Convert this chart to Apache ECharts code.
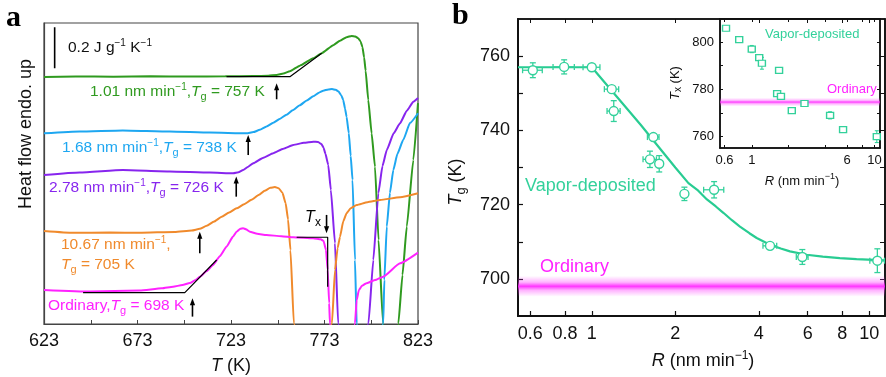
<!DOCTYPE html>
<html>
<head>
<meta charset="utf-8">
<script src="https://cdn.jsdelivr.net/npm/echarts@6/dist/echarts.min.js"></script>
<style>
  html, body { margin: 0; padding: 0; background: #fff; }
  #chart { width: 886px; height: 377px; }
</style>
</head>
<body>
<div id="chart"></div>
<script>
// ---------- Panel a: DSC heating traces, [T (K), heat flow (J g^-1 K^-1, offset)] ----------
const dsc101 = [[623,1.205],[640,1.207],[660,1.206],[680,1.208],[700,1.207],[720,1.208],[735,1.209],[743,1.211],[747.4,1.215],[751,1.222],[754.5,1.233],[759.8,1.260],[767,1.296],[771.5,1.321],[777.7,1.360],[781.3,1.382],[784.8,1.399],[787.5,1.405],[789.5,1.402],[791,1.394],[792.3,1.378],[793.3,1.350],[794.2,1.300],[795,1.235],[796.4,1.093],[798.2,0.930],[800,0.767],[801.9,0.410],[804.3,0.003],[808.5,-0.6],[812.5,0.003],[814.7,0.239],[817,0.475],[820.5,0.800],[823,1.077]];
const dsc168 = [[623,0.930],[642.1,0.939],[665.1,0.944],[690.3,0.939],[711.7,0.934],[731.3,0.930],[735,0.936],[738.4,0.947],[742,0.963],[745.6,0.981],[749,1.000],[752.7,1.021],[756,1.043],[759.8,1.067],[763.5,1.090],[767,1.111],[770,1.128],[772.3,1.138],[775,1.144],[777,1.146],[779,1.142],[780.5,1.134],[782,1.115],[783,1.093],[784,1.050],[784.8,1.011],[786,0.930],[787,0.820],[788,0.702],[789.3,0.312],[790.2,0.003],[797,-0.6],[804.4,0.003],[805,0.215],[806.3,0.475],[808,0.640],[809.8,0.751],[812,0.830],[815.1,0.898],[818.7,0.980],[823,1.028]];
const dsc278 = [[623,0.727],[642.1,0.739],[665.1,0.751],[690.3,0.744],[711.7,0.739],[724.2,0.735],[727,0.740],[729.5,0.751],[732,0.766],[734.9,0.784],[740,0.810],[745.6,0.833],[751,0.855],[756.3,0.873],[762,0.884],[767,0.889],[769.5,0.888],[771.3,0.878],[772.5,0.860],[773.5,0.830],[775,0.776],[776.4,0.654],[778.6,0.394],[780.3,0.003],[788,-0.6],[796.5,0.003],[799.1,0.312],[801.8,0.638],[804,0.770],[806.3,0.849],[810,0.930],[813.4,0.979],[817,1.040],[820.5,1.084],[823,1.102]];
const dsc1067 = [[623,0.454],[638.5,0.445],[658.2,0.446],[674.2,0.445],[692.9,0.449],[702,0.456],[706.3,0.464],[710,0.479],[714,0.500],[718,0.523],[722,0.544],[726,0.564],[730,0.584],[734,0.606],[738,0.630],[741,0.650],[744,0.664],[746.5,0.668],[748.5,0.662],[750.5,0.640],[752.2,0.590],[753.5,0.510],[754.8,0.360],[756.6,0.003],[766,-0.6],[777,0.003],[778.6,0.263],[780,0.370],[781.3,0.426],[783,0.500],[784.8,0.540],[787,0.565],[790.2,0.580],[796,0.594],[802.7,0.605],[813.4,0.618],[823,0.638]];
const dscOrdinary = [[623,0.166],[647.5,0.158],[674.2,0.163],[686,0.174],[692,0.182],[697,0.190],[701,0.200],[704,0.214],[706.3,0.230],[710,0.258],[713.4,0.288],[717,0.330],[720.6,0.377],[724,0.425],[726,0.450],[728,0.464],[729.5,0.467],[731,0.462],[733.1,0.450],[737,0.440],[742,0.434],[750,0.428],[756.3,0.423],[767,0.418],[771,0.413],[772.5,0.405],[773.8,0.361],[774.7,0.263],[775.5,0.101],[775.9,0.003],[782,-0.6],[789.3,0.003],[790.2,0.117],[791.4,0.166],[793,0.186],[795.2,0.198],[800,0.214],[804.4,0.231],[813.4,0.296],[823,0.348]];

// onset constructions and the crystallization-onset marker
const tangent101 = [[720.6,1.206],[754.5,1.206],[771.5,1.320]];
const tangentOrdinary = [[643.9,0.153],[698.3,0.153],[715.3,0.312]];
const txConstruction = [[758.1,0.423],[774.7,0.423],[774.7,0.182]];
// arrows: [T, tail, head]
const tgArrows = [[747.4,1.096,1.174],[732.2,0.824,0.922],[725.8,0.621,0.719],[706.3,0.345,0.450],[702.4,0.036,0.125]];
const txArrow = [774.1,0.532,0.442];
// 0.2 J g^-1 K^-1 scale bar
const scaleBar = [[628.7,1.247],[628.7,1.447]];

const aTempLabels = [623,673,723,773,823];
const aTempTicks = [623,648,673,698,723,748,773,798,823];

// ---------- Panel b: Tg vs deposition rate ----------
const tgRate = [0.613,0.795,1.0,1.18,1.20,1.667,1.62,1.75,2.157,2.76,4.39,5.74,10.7];
const tgValue = [756.2,757.1,757.0,751.1,745.2,738.2,732.2,731.0,722.9,724.0,708.9,705.9,704.9];
const tgRateErr = [0.05,0.07,0.07,0.07,0.065,0.08,0.09,0.05,0.03,0.23,0.25,0.28,0.65];
const tgValueErr = [2.0,1.9,0.5,0.6,2.8,0.8,2.2,2.2,1.8,2.2,0.8,2.0,3.2];
const fitRate = [0.542,1.0,1.5,2.0,2.23,2.4,2.6,2.8,2.98,3.2,3.42,3.7,3.93,4.39,4.8,5.18,5.95,6.8,7.84,9.0,11.4];
const fitTg = [757,757,741.5,730,725.8,724,721.4,719.5,717.8,715.8,714.1,712.3,711,709.2,708.2,707.4,706.5,706.0,705.6,705.3,705.0];
const tgOrdinary = 698;
const tgOrdinarySpread = 2.8;

const rateLabels = [0.6,0.8,1,2,4,6,8,10];
const tgLabels = [700,720,740,760];
const tgTicks = [700,710,720,730,740,750,760];

// inset: Tx vs deposition rate
const txRate = [0.617,0.79,1.0,1.15,1.21,1.67,1.61,1.73,2.12,2.69,4.35,5.55,10.45];
const txValue = [805.8,801,797,793.4,791,788,778.2,777,771,774,769,763,760];
const txValueErr = [1,1,1.5,1.2,2.5,1,1,1,0.8,0.8,1.5,1,2.5];
const txOrdinary = 774.6;
const txOrdinarySpread = 1.8;
const insetRateLabels = [0.6,1,6,10];
const insetRateTicks = [0.6,1,2,4,6,8,10];
const txLabels = [760,780,800];
const txTicks = [760,770,780,790,800];

// ---------- styling ----------
const FONT = "'Liberation Sans', Arial, Helvetica, sans-serif";
const C = {
  green: '#2f9a1f', blue: '#1ea7f1', purple: '#8725ee', orange: '#f08a2c', magenta: '#ff22ff',
  mint: '#28cc92', mintText: '#33d19b'
};

function rich(color, fs) {
  return {
    i: { fontStyle: 'italic', fontSize: fs, fontFamily: FONT, fill: color, lineHeight: Math.round(fs * 1.3) },
    s: { fontSize: Math.round(fs * 0.66), fontFamily: FONT, fill: color, verticalAlign: 'top', lineHeight: Math.round(fs * 0.7) },
    b: { fontSize: Math.round(fs * 0.74), fontFamily: FONT, fill: color, verticalAlign: 'bottom', lineHeight: Math.round(fs * 0.8) }
  };
}
function text(x, y, str, color, fs, opt) {
  opt = opt || {};
  return {
    type: 'text', x: x, y: y, rotation: opt.rot || 0, z: 100,
    style: {
      text: str, fill: color, fontSize: fs, fontFamily: opt.family || FONT,
      fontWeight: opt.weight || 'normal', lineHeight: Math.round(fs * 1.3),
      align: opt.align || 'left', verticalAlign: 'middle', rich: rich(color, fs)
    }
  };
}

function lineSeries(data, color, width, z) {
  return {
    type: 'line', xAxisIndex: 0, yAxisIndex: 0, data: data, showSymbol: false, symbol: 'none',
    smooth: 0.15, smoothMonotone: 'x', clip: true, z: z || 2, silent: true,
    lineStyle: { color: color, width: width }
  };
}
function polySeries(data, width) {
  return {
    type: 'line', xAxisIndex: 0, yAxisIndex: 0, data: data, showSymbol: false, symbol: 'none',
    clip: true, z: 5, silent: true, lineStyle: { color: '#000', width: width }
  };
}

// vertical arrow renderer: data item = [T, tail, head]
function renderArrow(params, api) {
  const t = api.coord([api.value(0), api.value(1)]);
  const h = api.coord([api.value(0), api.value(2)]);
  const dir = h[1] < t[1] ? -1 : 1;
  const headLen = 7, headHalf = 2.6;
  return {
    type: 'group', children: [
      { type: 'line', shape: { x1: t[0], y1: t[1], x2: h[0], y2: h[1] - dir * (headLen - 1) },
        style: { stroke: '#000', lineWidth: 1.6 } },
      { type: 'polygon', shape: { points: [[h[0], h[1]], [h[0] - headHalf, h[1] - dir * headLen], [h[0] + headHalf, h[1] - dir * headLen]] },
        style: { fill: '#000' } }
    ]
  };
}

// error-bar renderer: data item = [x, y, xlo, xhi, ylo, yhi]
function errorBars(color, cap, lw) {
  return function (params, api) {
    const x = api.value(0), y = api.value(1);
    const c = api.coord([x, y]);
    const xl = api.coord([api.value(2), y]);
    const xh = api.coord([api.value(3), y]);
    const yl = api.coord([x, api.value(4)]);
    const yh = api.coord([x, api.value(5)]);
    const st = { stroke: color, lineWidth: lw, fill: null };
    const children = [
      { type: 'line', shape: { x1: xl[0], y1: c[1], x2: xh[0], y2: c[1] }, style: st },
      { type: 'line', shape: { x1: c[0], y1: yl[1], x2: c[0], y2: yh[1] }, style: st }
    ];
    if (xh[0] - xl[0] > 1) {
      children.push({ type: 'line', shape: { x1: xl[0], y1: c[1] - cap, x2: xl[0], y2: c[1] + cap }, style: st });
      children.push({ type: 'line', shape: { x1: xh[0], y1: c[1] - cap, x2: xh[0], y2: c[1] + cap }, style: st });
    }
    if (yl[1] - yh[1] > 1) {
      children.push({ type: 'line', shape: { x1: c[0] - cap, y1: yl[1], x2: c[0] + cap, y2: yl[1] }, style: st });
      children.push({ type: 'line', shape: { x1: c[0] - cap, y1: yh[1], x2: c[0] + cap, y2: yh[1] }, style: st });
    }
    return { type: 'group', children: children };
  };
}

const mainErr = tgRate.map((r, i) => [r, tgValue[i], r - tgRateErr[i], r + tgRateErr[i], tgValue[i] - tgValueErr[i], tgValue[i] + tgValueErr[i]]);
const insetErr = txRate.map((r, i) => [r, txValue[i], r, r, txValue[i] - txValueErr[i], txValue[i] + txValueErr[i]]);

const fmtRate = v => String(Math.round(v * 10) / 10);
const tickLabelStyle = { color: '#111', fontSize: 18, fontFamily: FONT };
const insetLabelStyle = { color: '#111', fontSize: 13, fontFamily: FONT };

function bandStyle(alpha) {
  return {
    color: {
      type: 'linear', x: 0, y: 0, x2: 0, y2: 1,
      colorStops: [
        { offset: 0, color: 'rgba(255,60,255,0)' },
        { offset: 0.3, color: 'rgba(255,60,255,' + (alpha * 0.4) + ')' },
        { offset: 0.5, color: 'rgba(255,40,255,' + alpha + ')' },
        { offset: 0.7, color: 'rgba(255,60,255,' + (alpha * 0.4) + ')' },
        { offset: 1, color: 'rgba(255,60,255,0)' }
      ]
    }
  };
}

const chart = echarts.init(document.getElementById('chart'), null, { renderer: 'canvas' });
chart.setOption({
  animation: false,
  backgroundColor: '#fff',
  grid: [
    { left: 44, top: 23, width: 374, height: 301, show: true, borderColor: '#444', borderWidth: 1.2, backgroundColor: 'transparent' },
    { left: 518, top: 19, width: 367, height: 297, show: true, borderColor: '#111', borderWidth: 1.6, backgroundColor: 'transparent' },
    { left: 720, top: 19, width: 160, height: 129, show: true, borderColor: '#111', borderWidth: 1.5, backgroundColor: '#fff' }
  ],
  xAxis: [
    { gridIndex: 0, type: 'value', min: 623, max: 823,
      axisLine: { lineStyle: { color: '#444', width: 1.2 } },
      axisTick: { inside: true, length: 4, customValues: aTempTicks, lineStyle: { color: '#444' } },
      axisLabel: { customValues: aTempLabels, margin: 8, ...tickLabelStyle },
      splitLine: { show: false } },
    { gridIndex: 1, type: 'log', logBase: 10, min: 0.542, max: 11.4,
      axisLine: { lineStyle: { color: '#111', width: 2 } },
      axisTick: { inside: true, length: 5, customValues: rateLabels, lineStyle: { color: '#111', width: 1.2 } },
      axisLabel: { customValues: rateLabels, margin: 9, formatter: fmtRate, ...tickLabelStyle },
      splitLine: { show: false }, minorTick: { show: false } },
    { gridIndex: 1, type: 'log', logBase: 10, min: 0.542, max: 11.4, position: 'top',
      axisLine: { lineStyle: { color: '#111', width: 1.6 } },
      axisTick: { inside: true, length: 4, customValues: rateLabels, lineStyle: { color: '#111' } },
      axisLabel: { show: false }, splitLine: { show: false } },
    { gridIndex: 2, type: 'log', logBase: 10, min: 0.551, max: 11.1,
      axisLine: { lineStyle: { color: '#111', width: 1.5 } },
      axisTick: { inside: true, length: 3, customValues: insetRateTicks, lineStyle: { color: '#111' } },
      axisLabel: { customValues: insetRateLabels, margin: 6, formatter: fmtRate, ...insetLabelStyle },
      splitLine: { show: false } },
    { gridIndex: 2, type: 'log', logBase: 10, min: 0.551, max: 11.1, position: 'top',
      axisLine: { lineStyle: { color: '#111', width: 1.5 } },
      axisTick: { inside: true, length: 3, customValues: insetRateTicks, lineStyle: { color: '#111' } },
      axisLabel: { show: false }, splitLine: { show: false } }
  ],
  yAxis: [
    { gridIndex: 0, type: 'value', min: 0, max: 1.468,
      axisLine: { show: true, lineStyle: { color: '#444', width: 1.2 } },
      axisTick: { show: false }, axisLabel: { show: false }, splitLine: { show: false } },
    { gridIndex: 1, type: 'value', min: 690, max: 770,
      axisLine: { show: true, lineStyle: { color: '#111', width: 2 } },
      axisTick: { inside: true, length: 5, customValues: tgTicks, lineStyle: { color: '#111', width: 1.2 } },
      axisLabel: { customValues: tgLabels, margin: 8, ...tickLabelStyle },
      splitLine: { show: false } },
    { gridIndex: 1, type: 'value', min: 690, max: 770, position: 'right',
      axisLine: { show: true, lineStyle: { color: '#111', width: 1.6 } },
      axisTick: { inside: true, length: 5, customValues: tgTicks, lineStyle: { color: '#111' } },
      axisLabel: { show: false }, splitLine: { show: false } },
    { gridIndex: 2, type: 'value', min: 755.2, max: 809.7,
      axisLine: { show: true, lineStyle: { color: '#111', width: 1.5 } },
      axisTick: { inside: true, length: 3, customValues: txTicks, lineStyle: { color: '#111' } },
      axisLabel: { customValues: txLabels, margin: 6, ...insetLabelStyle },
      splitLine: { show: false } },
    { gridIndex: 2, type: 'value', min: 755.2, max: 809.7, position: 'right',
      axisLine: { show: true, lineStyle: { color: '#111', width: 1.5 } },
      axisTick: { inside: true, length: 3, customValues: txTicks, lineStyle: { color: '#111' } },
      axisLabel: { show: false }, splitLine: { show: false } }
  ],
  series: [
    lineSeries(dsc101, C.green, 2),
    lineSeries(dsc168, C.blue, 2),
    lineSeries(dsc278, C.purple, 2),
    lineSeries(dsc1067, C.orange, 2),
    lineSeries(dscOrdinary, C.magenta, 2),
    polySeries(tangent101, 1.2),
    polySeries(tangentOrdinary, 1.2),
    polySeries(txConstruction, 1.2),
    polySeries(scaleBar, 1.6),
    {
      type: 'custom', xAxisIndex: 0, yAxisIndex: 0, silent: true, z: 6,
      renderItem: renderArrow, data: tgArrows.concat([txArrow])
    },
    // panel b: ordinary-glass band and fit
    {
      type: 'line', xAxisIndex: 1, yAxisIndex: 1, silent: true, z: 3,
      data: fitRate.map((r, i) => [r, fitTg[i]]), showSymbol: false, symbol: 'none',
      lineStyle: { color: C.mint, width: 2.2 },
      markArea: {
        silent: true, z: 2,
        itemStyle: bandStyle(0.95),
        data: [[{ yAxis: tgOrdinary - tgOrdinarySpread }, { yAxis: tgOrdinary + tgOrdinarySpread }]]
      }
    },
    {
      type: 'custom', xAxisIndex: 1, yAxisIndex: 1, silent: true, z: 4,
      renderItem: errorBars(C.mintText, 3, 1.3), data: mainErr
    },
    {
      type: 'scatter', xAxisIndex: 1, yAxisIndex: 1, silent: true, z: 5,
      data: tgRate.map((r, i) => [r, tgValue[i]]), symbol: 'circle', symbolSize: 9,
      itemStyle: { color: '#fff', borderColor: C.mintText, borderWidth: 1.4, opacity: 1 }
    },
    // inset
    {
      type: 'custom', xAxisIndex: 3, yAxisIndex: 3, silent: true, z: 7,
      renderItem: errorBars(C.mintText, 2, 1.1), data: insetErr
    },
    {
      type: 'scatter', xAxisIndex: 3, yAxisIndex: 3, silent: true, z: 8,
      data: txRate.map((r, i) => [r, txValue[i]]), symbol: 'rect', symbolSize: [7, 6],
      itemStyle: { color: '#fff', borderColor: C.mintText, borderWidth: 1.3, opacity: 1 },
      markArea: {
        silent: true, z: 6, itemStyle: bandStyle(0.9),
        data: [[{ yAxis: txOrdinary - txOrdinarySpread }, { yAxis: txOrdinary + txOrdinarySpread }]]
      }
    }
  ],
  graphic: [
    text(6, 18, 'a', '#000', 30, { weight: 'bold', family: "'Liberation Serif', 'DejaVu Serif', serif" }),
    text(452, 16, 'b', '#000', 30, { weight: 'bold', family: "'Liberation Serif', 'DejaVu Serif', serif" }),
    // panel a annotations
    text(68, 48, '0.2 J g{s|−1} K{s|−1}', '#111', 15.5),
    text(90, 92, '1.01 nm min{s|−1},{i|T}{b|g} = 757 K', C.green, 15.5),
    text(62, 148, '1.68 nm min{s|−1},{i|T}{b|g} = 738 K', C.blue, 15.5),
    text(49, 188, '2.78 nm min{s|−1},{i|T}{b|g} = 726 K', C.purple, 15.5),
    text(61, 245, '10.67 nm min{s|−1},', C.orange, 15.5),
    text(61, 265, '{i|T}{b|g} = 705 K', C.orange, 15.5),
    text(48, 306, 'Ordinary,{i|T}{b|g} = 698 K', C.magenta, 15.5),
    text(313, 218, '{i|T}{b|x}', '#000', 16, { align: 'center' }),
    text(231, 366, '{i|T} (K)', '#111', 18, { align: 'center' }),
    text(26, 134, 'Heat flow endo. up', '#111', 18, { align: 'center', rot: Math.PI / 2 }),
    // panel b annotations
    text(703, 361, '{i|R} (nm min{s|−1})', '#111', 18, { align: 'center' }),
    text(456, 182, '{i|T}{b|g} (K)', '#111', 18, { align: 'center', rot: Math.PI / 2 }),
    text(525, 186, 'Vapor-deposited', C.mintText, 18),
    text(540, 267, 'Ordinary', C.magenta, 18),
    text(765, 34, 'Vapor-deposited', C.mintText, 13),
    text(827, 89, 'Ordinary', C.magenta, 13),
    text(802, 181, '{i|R} (nm min{s|−1})', '#111', 13, { align: 'center' }),
    text(675, 83, '{i|T}{b|x} (K)', '#111', 13, { align: 'center', rot: Math.PI / 2 })
  ]
});
</script>
</body>
</html>
